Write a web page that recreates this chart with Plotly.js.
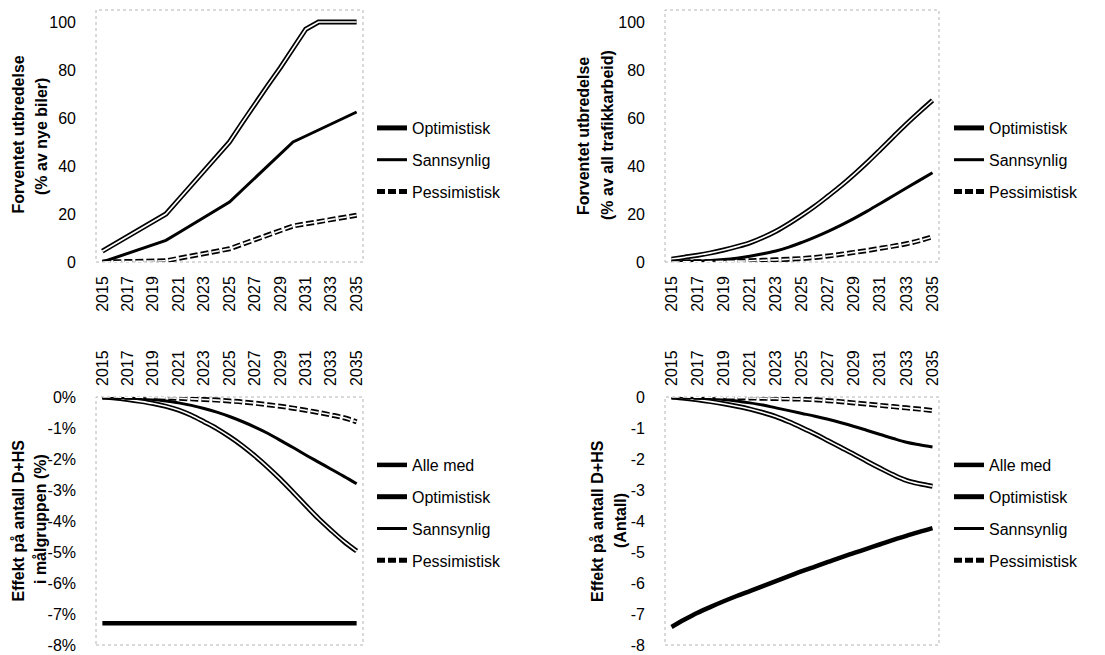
<!DOCTYPE html>
<html><head><meta charset="utf-8">
<script src="https://cdn.plot.ly/plotly-3.0.1.min.js"></script>
<style>html,body{margin:0;padding:0;background:#fff}#chart{width:1105px;height:655px}</style>
</head><body><div id="chart"></div>
<script>
// ---------- data ----------
const years = [2015,2016,2017,2018,2019,2020,2021,2022,2023,2024,2025,2026,2027,2028,2029,2030,2031,2032,2033,2034,2035];
const yearTicks = [2015,2017,2019,2021,2023,2025,2027,2029,2031,2033,2035];
const yearTickText = ['2015','2017','2019','2021','2023','2025','2027','2029','2031','2033','2035'];

// Top-left: Forventet utbredelse (% av nye biler)
const nyeOptimistisk  = [4.5,7.6,10.7,13.8,16.9,20,26,32,38,44,50,58,66,73.5,81,89,97,100,100,100,100];
const nyeSannsynlig   = [0,1.8,3.6,5.4,7.2,9,12.2,15.4,18.6,21.8,25,30,35,40,45,50,52.5,55,57.5,60,62.5];
const nyePessimistisk = [0,0.1,0.2,0.3,0.4,0.5,1.5,2.5,3.5,4.5,5.5,7.4,9.3,11.2,13.1,15,15.9,16.8,17.7,18.6,19.5];

// Top-right: Forventet utbredelse (% av all trafikkarbeid)
const trafOptimistisk  = [1.2,2,2.8,3.8,5,6.4,8,10.2,12.8,16,19.5,23.3,27.5,31.8,36.5,41.5,46.8,52.2,57.5,62.5,67.3];
const trafSannsynlig   = [0,0.2,0.4,0.6,1,1.6,2.4,3.4,4.6,6.2,8.2,10.4,12.8,15.4,18.2,21.2,24.4,27.6,30.8,34,37.2];
const trafPessimistisk = [0,0.05,0.1,0.15,0.25,0.35,0.5,0.7,0.9,1.15,1.45,1.9,2.5,3.2,4.0,4.8,5.7,6.6,7.6,8.9,10.5];

// Bottom-left: Effekt på antall D+HS i målgruppen (%)
const pctAlleMed       = [-7.3,-7.3,-7.3,-7.3,-7.3,-7.3,-7.3,-7.3,-7.3,-7.3,-7.3,-7.3,-7.3,-7.3,-7.3,-7.3,-7.3,-7.3,-7.3,-7.3,-7.3];
const pctOptimistisk   = [0,-0.03,-0.08,-0.14,-0.21,-0.3,-0.42,-0.59,-0.8,-1.02,-1.28,-1.57,-1.9,-2.26,-2.65,-3.07,-3.5,-3.92,-4.3,-4.66,-4.97];
const pctSannsynlig    = [0,-0.01,-0.03,-0.05,-0.08,-0.13,-0.19,-0.27,-0.37,-0.49,-0.63,-0.79,-0.97,-1.17,-1.4,-1.63,-1.87,-2.1,-2.33,-2.56,-2.8];
const pctPessimistisk  = [0,0,-0.01,-0.01,-0.02,-0.03,-0.04,-0.06,-0.08,-0.1,-0.13,-0.16,-0.2,-0.25,-0.3,-0.36,-0.43,-0.5,-0.58,-0.67,-0.8];

// Bottom-right: Effekt på antall D+HS (Antall)
const antAlleMed      = [-7.42,-7.18,-6.96,-6.77,-6.59,-6.42,-6.26,-6.1,-5.94,-5.78,-5.62,-5.47,-5.32,-5.17,-5.03,-4.89,-4.75,-4.61,-4.48,-4.35,-4.23];
const antOptimistisk  = [0,-0.04,-0.09,-0.15,-0.22,-0.3,-0.39,-0.5,-0.63,-0.8,-0.99,-1.19,-1.41,-1.63,-1.85,-2.08,-2.3,-2.51,-2.69,-2.8,-2.88];
const antSannsynlig   = [0,-0.01,-0.03,-0.05,-0.08,-0.13,-0.19,-0.26,-0.35,-0.44,-0.53,-0.62,-0.72,-0.83,-0.95,-1.08,-1.21,-1.34,-1.46,-1.54,-1.61];
const antPessimistisk = [0,0,-0.01,-0.01,-0.02,-0.02,-0.03,-0.04,-0.05,-0.06,-0.07,-0.09,-0.12,-0.15,-0.19,-0.23,-0.27,-0.31,-0.35,-0.39,-0.44];

const topYTicks = [0,20,40,60,80,100];
const topYTickText = ['0','20','40','60','80','100'];
const pctYTicks = [-8,-7,-6,-5,-4,-3,-2,-1,0];
const pctYTickText = ['-8%','-7%','-6%','-5%','-4%','-3%','-2%','-1%','0%'];
const antYTickText = ['-8','-7','-6','-5','-4','-3','-2','-1','0'];

// ---------- styling ----------
const FONT = 'Liberation Sans, Arial, sans-serif';
const W = 1105, H = 655;
const px = v => v / W;
const py = v => 1 - v / H;

function solid(y, name, xa, ya, leg, width, shape) {
  return [{x: years, y: y, name: name, type: 'scatter', mode: 'lines', xaxis: xa, yaxis: ya,
    legend: leg, legendgroup: leg + name, line: {color: '#000', width: width, shape: shape}, hoverinfo: 'skip'}];
}
function double(y, name, xa, ya, leg, shape, dash) {
  return [
    {x: years, y: y, name: name, type: 'scatter', mode: 'lines', xaxis: xa, yaxis: ya,
     legend: leg, legendgroup: leg + name, line: {color: '#000', width: 5, shape: shape, dash: dash || 'solid'}, hoverinfo: 'skip'},
    {x: years, y: y, name: name, type: 'scatter', mode: 'lines', xaxis: xa, yaxis: ya, showlegend: false,
     legend: leg, legendgroup: leg + name, line: {color: '#fff', width: 1.6, shape: shape, dash: dash || 'solid'}, hoverinfo: 'skip'}
  ];
}
const DASH = '8px,3px';

const traces = [].concat(
  double(nyeOptimistisk, 'Optimistisk', 'x', 'y', 'legend', 'linear'),
  solid(nyeSannsynlig, 'Sannsynlig', 'x', 'y', 'legend', 3, 'linear'),
  double(nyePessimistisk, 'Pessimistisk', 'x', 'y', 'legend', 'linear', DASH),

  double(trafOptimistisk, 'Optimistisk', 'x2', 'y2', 'legend2', 'spline'),
  solid(trafSannsynlig, 'Sannsynlig', 'x2', 'y2', 'legend2', 3, 'spline'),
  double(trafPessimistisk, 'Pessimistisk', 'x2', 'y2', 'legend2', 'spline', DASH),

  solid(pctAlleMed, 'Alle med', 'x3', 'y3', 'legend3', 4.5, 'linear'),
  double(pctOptimistisk, 'Optimistisk', 'x3', 'y3', 'legend3', 'spline'),
  solid(pctSannsynlig, 'Sannsynlig', 'x3', 'y3', 'legend3', 3, 'spline'),
  double(pctPessimistisk, 'Pessimistisk', 'x3', 'y3', 'legend3', 'spline', DASH),

  solid(antAlleMed, 'Alle med', 'x4', 'y4', 'legend4', 4.5, 'spline'),
  double(antOptimistisk, 'Optimistisk', 'x4', 'y4', 'legend4', 'spline'),
  solid(antSannsynlig, 'Sannsynlig', 'x4', 'y4', 'legend4', 3, 'spline'),
  double(antPessimistisk, 'Pessimistisk', 'x4', 'y4', 'legend4', 'spline', DASH)
);

const tickFont = {family: FONT, size: 16, color: '#000'};
function xAxis(domain, side, anchor) {
  return {domain: domain, anchor: anchor, side: side, range: [2014.5, 2035.5], tickvals: yearTicks, ticktext: yearTickText,
    tickangle: -90, showgrid: false, zeroline: false, showline: false, ticks: '', tickfont: tickFont,
    ticklabelstandoff: 10, ticklabeloverflow: 'allow', fixedrange: true};
}
function yAxis(domain, anchor, range, vals, text) {
  return {domain: domain, anchor: anchor, range: range, tickvals: vals, ticktext: text, showgrid: false, zeroline: false,
    showline: false, ticks: '', tickfont: tickFont, ticklabelstandoff: 19, ticklabeloverflow: 'allow', fixedrange: true};
}
const topY = [py(262), py(10)];
const botY = [py(645), py(397)];
const leftX = [px(96), px(363)];
const rightX = [px(665), px(939)];

function legendAt(x, y) {
  return {x: px(x), y: py(y), xanchor: 'left', yanchor: 'top', bgcolor: 'rgba(0,0,0,0)', borderwidth: 0,
    font: {family: FONT, size: 16, color: '#000'}, traceorder: 'grouped', tracegroupgap: 8, itemclick: false, itemdoubleclick: false};
}

function border(xr, yr) {
  return {type: 'rect', xref: xr + ' domain', yref: yr + ' domain', x0: 0, x1: 1, y0: 0, y1: 1,
    line: {color: '#b4b4b4', width: 1, dash: 'dot'}, layer: 'below'};
}
function ytitle(x, y, text) {
  return {xref: 'paper', yref: 'paper', x: px(x), y: py(y), xanchor: 'center', yanchor: 'middle', textangle: -90,
    showarrow: false, text: text, font: {family: FONT, size: 16, color: '#000', weight: 'bold'}};
}

const layout = {
  width: W, height: H, margin: {l: 0, r: 0, t: 0, b: 0}, paper_bgcolor: '#fff', plot_bgcolor: '#fff',
  showlegend: true,
  xaxis: xAxis(leftX, 'bottom', 'y'),
  yaxis: yAxis(topY, 'x', [0, 105], topYTicks, topYTickText),
  xaxis2: xAxis(rightX, 'bottom', 'y2'),
  yaxis2: yAxis(topY, 'x2', [0, 105], topYTicks, topYTickText),
  xaxis3: xAxis(leftX, 'top', 'y3'),
  yaxis3: yAxis(botY, 'x3', [-8, 0], pctYTicks, pctYTickText),
  xaxis4: xAxis(rightX, 'top', 'y4'),
  yaxis4: yAxis(botY, 'x4', [-8, 0], pctYTicks, antYTickText),
  legend: legendAt(372, 111),
  legend2: legendAt(949, 111),
  legend3: legendAt(372, 448),
  legend4: legendAt(949, 448),
  shapes: [border('x', 'y'), border('x2', 'y2'), border('x3', 'y3'), border('x4', 'y4')],
  annotations: [
    ytitle(17.5, 135, 'Forventet utbredelse'),
    ytitle(41, 137, '(% av nye biler)'),
    ytitle(584, 136, 'Forventet utbredelse'),
    ytitle(607, 135, '(% av all trafikkarbeid)'),
    ytitle(17.5, 521, 'Effekt på antall D+HS'),
    ytitle(40, 519, 'i målgruppen (%)'),
    ytitle(597, 521, 'Effekt på antall D+HS'),
    ytitle(620, 521, '(Antall)')
  ]
};

Plotly.newPlot('chart', traces, layout, {displayModeBar: false, staticPlot: true});
</script>
</body></html>
